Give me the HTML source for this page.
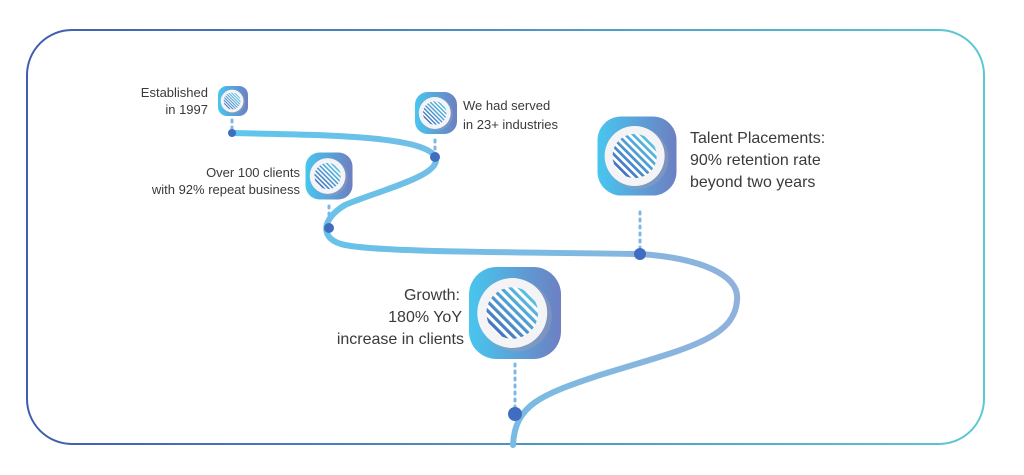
<!DOCTYPE html>
<html><head><meta charset="utf-8"><style>
html,body{margin:0;padding:0;background:#fff;}
svg{display:block;}
text{font-family:"Liberation Sans",sans-serif;fill:#3a3a3a;}
</style></head><body>
<svg width="1024" height="475" viewBox="0 0 1024 475" xmlns="http://www.w3.org/2000/svg">
<defs>
<linearGradient id="bd" x1="0" y1="0" x2="1" y2="0">
<stop offset="0" stop-color="#3f5db0"/><stop offset="1" stop-color="#5cc8d4"/></linearGradient>
<linearGradient id="ic" x1="0" y1="0" x2="1" y2="0">
<stop offset="0" stop-color="#48c6ee"/><stop offset="1" stop-color="#6d7fc2"/></linearGradient>
<linearGradient id="hc" x1="0" y1="1" x2="1" y2="0">
<stop offset="0" stop-color="#3f5fb8"/><stop offset="1" stop-color="#5ed2e6"/></linearGradient>
<pattern id="hp" width="7" height="7" patternUnits="userSpaceOnUse" patternTransform="rotate(-45)">
<rect width="7" height="7" fill="#000"/><rect width="3.5" height="7" fill="#fff"/></pattern>
<mask id="hm"><rect x="-60" y="-60" width="120" height="120" fill="url(#hp)"/></mask>
<linearGradient id="pt" x1="0" y1="0" x2="1" y2="0">
<stop offset="0" stop-color="#5ec6ec"/><stop offset="1" stop-color="#8fb2dc"/></linearGradient>
<g id="icon">
<rect x="-50" y="-50" width="100" height="100" rx="30" fill="url(#ic)"/>
<circle cx="1" cy="3" r="39" fill="#9aa0b4" opacity="0.45"/>
<circle cx="-3" cy="0" r="38" fill="#f4f4f7"/>
<circle cx="-3" cy="0" r="28" fill="#fff"/>
<circle cx="-3" cy="0" r="28" fill="url(#hc)" mask="url(#hm)"/>
</g>
</defs>
<rect x="27" y="30" width="957" height="414" rx="45" fill="none" stroke="url(#bd)" stroke-width="2"/>
<path d="M232,133 C330,135 420,136 435,156 C445,175 380,190 345,205 C320,220 320,240 345,245 C380,252 500,252 640,254 C700,258 740,275 737,300 C735,340 680,350 600,375 C540,395 515,405 513,445" fill="none" stroke="url(#pt)" stroke-width="6" stroke-linecap="round"/>
<g stroke="#7fb6e6" stroke-width="3" stroke-dasharray="2 5" stroke-linecap="round">
<line x1="232" y1="120" x2="232" y2="130"/>
<line x1="435" y1="140" x2="435" y2="152"/>
<line x1="329" y1="206" x2="329" y2="224"/>
<line x1="640" y1="212" x2="640" y2="250"/>
<line x1="515" y1="364" x2="515" y2="410"/>
</g>
<g fill="#3f6ec0">
<circle cx="232" cy="133" r="4"/>
<circle cx="435" cy="157" r="5"/>
<circle cx="329" cy="228" r="5"/>
<circle cx="640" cy="254" r="6"/>
<circle cx="515" cy="414" r="7"/>
</g>
<use href="#icon" transform="translate(233,101) scale(0.3)"/>
<use href="#icon" transform="translate(436,113) scale(0.42)"/>
<use href="#icon" transform="translate(329,176) scale(0.47)"/>
<use href="#icon" transform="translate(637,156) scale(0.79)"/>
<use href="#icon" transform="translate(515,313) scale(0.92)"/>
<g font-size="13" text-anchor="end">
<text x="208" y="97">Established</text>
<text x="208" y="114">in 1997</text>
<text x="300" y="177">Over 100 clients</text>
<text x="300" y="194">with 92% repeat business</text>
</g>
<g font-size="13">
<text x="463" y="110">We had served</text>
<text x="463" y="129">in 23+ industries</text>
</g>
<g font-size="16">
<text x="690" y="143">Talent Placements:</text>
<text x="690" y="165">90% retention rate</text>
<text x="690" y="187">beyond two years</text>
</g>
<g font-size="16" text-anchor="end">
<text x="460" y="300">Growth:</text>
<text x="462" y="322">180% YoY</text>
<text x="464" y="344">increase in clients</text>
</g>
</svg>
</body></html>
